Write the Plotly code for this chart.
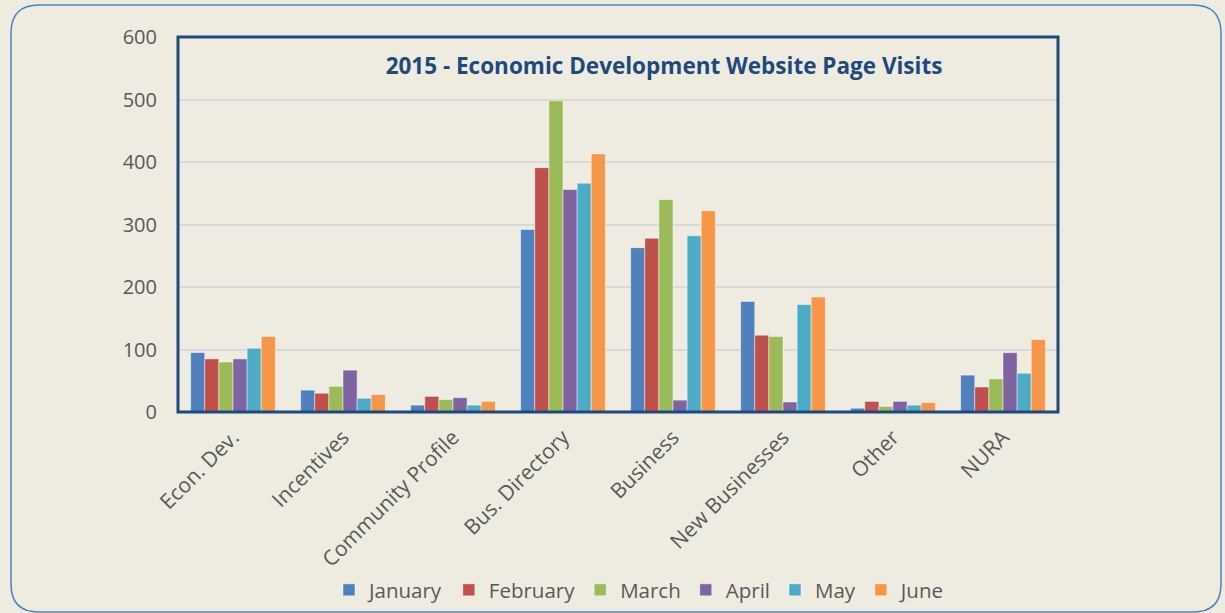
import plotly.graph_objects as go

categories = ["Econ. Dev.", "Incentives", "Community Profile", "Bus. Directory",
              "Business", "New Businesses", "Other", "NURA"]
months = ["January", "February", "March", "April", "May", "June"]
january = [95, 35, 11, 292, 263, 177, 6, 59]
february = [85, 30, 25, 391, 278, 123, 17, 40]
march = [80, 41, 20, 498, 340, 121, 9, 53]
april = [85, 67, 23, 356, 19, 16, 17, 95]
may = [102, 22, 11, 366, 282, 172, 11, 62]
june = [121, 28, 17, 413, 322, 184, 15, 116]
series = [january, february, march, april, may, june]
colors = ["#4F81BD", "#C0504D", "#9BBB59", "#8064A2", "#4BACC6", "#F79646"]
y_ticks = [0, 100, 200, 300, 400, 500, 600]

W, H = 1225, 613
L, R, T, B = 178, 1058, 37, 412
pw, ph = R - L, B - T

def px(x):
    return (x - L) / pw

def py(y):
    return (B - y) / ph

fig = go.Figure()
for name, vals, c in zip(months, series, colors):
    fig.add_trace(go.Bar(
        x=categories, y=vals, name=name,
        marker=dict(color=c, line=dict(color="rgba(255,255,255,0.45)", width=1)),
    ))

# rounded outer border
x0, x1, y0, y1, r = 11, 1221, 5, 612, 28
path = (
    f"M {px(x0 + r)} {py(y0)} L {px(x1 - r)} {py(y0)} "
    f"Q {px(x1)} {py(y0)} {px(x1)} {py(y0 + r)} "
    f"L {px(x1)} {py(y1 - r)} Q {px(x1)} {py(y1)} {px(x1 - r)} {py(y1)} "
    f"L {px(x0 + r)} {py(y1)} Q {px(x0)} {py(y1)} {px(x0)} {py(y1 - r)} "
    f"L {px(x0)} {py(y0 + r)} Q {px(x0)} {py(y0)} {px(x0 + r)} {py(y0)} Z"
)

fig.update_layout(
    width=W, height=H,
    margin=dict(l=L, r=W - R, t=T, b=H - B, autoexpand=False),
    paper_bgcolor="#EEECE1", plot_bgcolor="#EEECE1",
    barmode="group", bargap=0.23, bargroupgap=0,
    font=dict(family="Open Sans, Liberation Sans, sans-serif", color="#595959"),
    title=dict(
        text="<b>2015 - Economic Development Website Page Visits</b>",
        xref="container", x=664 / W, xanchor="center",
        yref="container", y=1 - 66 / H, yanchor="middle",
        font=dict(size=22.5, color="#1F497D", family="Open Sans, sans-serif"),
    ),
    xaxis=dict(
        tickangle=-45, tickfont=dict(size=21, color="#595959"),
        showline=False, ticks="", showgrid=False, ticklabelstandoff=8,
    ),
    yaxis=dict(
        range=[0, 600], tickvals=y_ticks, tickfont=dict(size=20, color="#595959"),
        showgrid=True, gridcolor="#D9D9D9", gridwidth=1.5,
        zeroline=False, showline=False, ticks="", ticklabelstandoff=20,
    ),
    legend=dict(
        orientation="h", xref="container", x=640 / W, xanchor="center",
        yref="container", y=1 - 590 / H, yanchor="middle",
        font=dict(size=20.5, color="#595959"), bgcolor="rgba(0,0,0,0)",
        itemwidth=30, traceorder="normal",
    ),
    shapes=[
        dict(type="rect", xref="paper", yref="paper", x0=0, x1=1, y0=0, y1=1,
             line=dict(color="#1F497D", width=3), layer="above"),
        dict(type="path", xref="paper", yref="paper", path=path,
             line=dict(color="#4F81BD", width=1.5)),
    ],
    showlegend=True,
)

fig.write_html(
    "out.html",
    config={"displayModeBar": False},
    post_script="document.body.style.margin='0';document.body.style.overflow='hidden';"
                "document.body.style.background='#EEECE1';",
)
